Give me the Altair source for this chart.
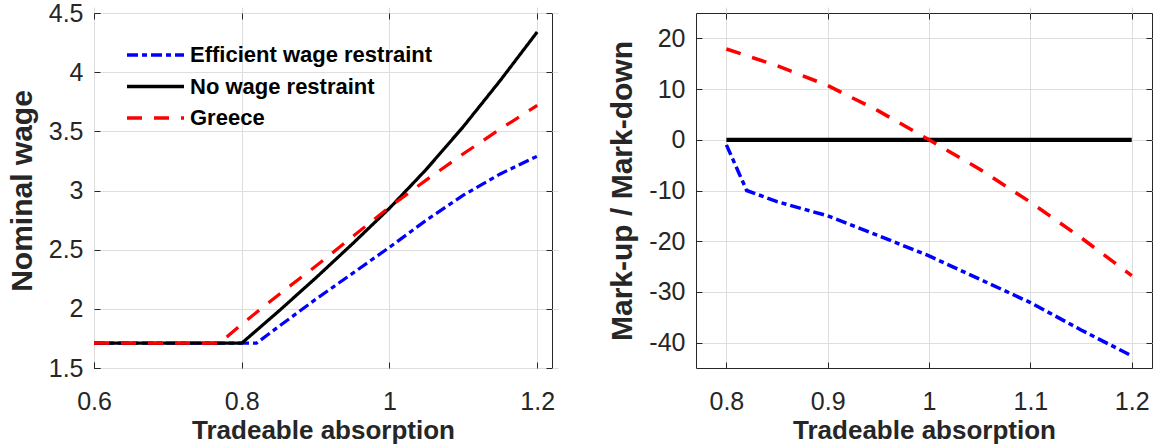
import altair as alt
import pandas as pd

SERIES = ["Efficient wage restraint", "No wage restraint", "Greece"]
COLORS = ["#0000ff", "#000000", "#ff0000"]
DASHES = [[11, 4, 5, 4], [1, 0], [15, 12]]

# ---- Left panel: Nominal wage vs tradeable absorption
eff_x = [0.6, 0.7, 0.82, 0.85, 0.9, 0.95, 1.0, 1.05, 1.1, 1.15, 1.2]
eff_y = [1.71, 1.71, 1.71, 1.85, 2.08, 2.30, 2.52, 2.75, 2.96, 3.14, 3.29]
now_x = [0.6, 0.7, 0.8, 0.85, 0.9, 0.95, 1.0, 1.05, 1.1, 1.15, 1.2]
now_y = [1.71, 1.71, 1.71, 1.98, 2.26, 2.55, 2.85, 3.18, 3.54, 3.93, 4.34]
gre_x = [0.6, 0.7, 0.77, 0.8, 0.85, 0.9, 0.95, 1.0, 1.05, 1.1, 1.15, 1.2]
gre_y = [1.71, 1.71, 1.71, 1.87, 2.12, 2.36, 2.61, 2.86, 3.09, 3.31, 3.52, 3.72]

# ---- Right panel: Mark-up / Mark-down vs tradeable absorption
eff2_x = [0.8, 0.82, 0.85, 0.9, 0.95, 1.0, 1.05, 1.1, 1.15, 1.2]
eff2_y = [-1.0, -10.0, -12.2, -15.0, -18.9, -22.9, -27.5, -32.1, -37.5, -42.6]
now2_x = [0.8, 1.2]
now2_y = [0.0, 0.0]
gre2_x = [0.8, 0.85, 0.9, 0.95, 1.0, 1.05, 1.1, 1.15, 1.2]
gre2_y = [17.9, 14.6, 10.7, 5.7, 0.0, -5.8, -12.3, -19.3, -26.8]

left_xticks = [0.6, 0.8, 1.0, 1.2]
left_yticks = [1.5, 2.0, 2.5, 3.0, 3.5, 4.0, 4.5]
right_xticks = [0.8, 0.9, 1.0, 1.1, 1.2]
right_yticks = [-40, -30, -20, -10, 0, 10, 20]

XTITLE = "Tradeable absorption"
FONT = "Liberation Sans"
TXT = "#262626"


def frame(xs, ys, name):
    return pd.DataFrame({"x": xs, "y": ys, "series": name})


def panel(dfs, xdom, xticks, ydom, yticks, ytitle, with_legend, w, h, widths):
    xs = alt.Scale(domain=xdom, nice=False, zero=False)
    ys = alt.Scale(domain=ydom, nice=False, zero=False)
    if with_legend:
        leg = alt.Legend(
            title=None, orient="none", legendX=31, legendY=32,
            symbolType="stroke", symbolSize=3249, symbolStrokeWidth=3.5,
            clipHeight=20, rowPadding=9.5, labelFont=FONT, labelFontSize=22,
            labelFontWeight="bold", labelColor="#000000", labelOffset=4,
            labelLimit=500, padding=0, symbolOffset=0,
        )
        color = alt.Color("series:N", scale=alt.Scale(domain=SERIES, range=COLORS), legend=leg)
        dash = alt.StrokeDash("series:N", scale=alt.Scale(domain=SERIES, range=DASHES), legend=leg)
    else:
        color = alt.Color("series:N", scale=alt.Scale(domain=SERIES, range=COLORS), legend=None)
        dash = alt.StrokeDash("series:N", scale=alt.Scale(domain=SERIES, range=DASHES), legend=None)

    lab = "datum.value + ''"
    main_x = alt.Axis(orient="bottom", values=xticks, title=XTITLE, labelExpr=lab, grid=True)
    main_y = alt.Axis(orient="left", values=yticks, title=ytitle, labelExpr=lab, grid=True)
    top_x = alt.Axis(orient="top", values=xticks, title=None, labels=False, grid=False)
    right_y = alt.Axis(orient="right", values=yticks, title=None, labels=False, grid=False)

    layers = []
    for i, df in enumerate(dfs):
        if i == 0:
            ax, ay = main_x, main_y
        elif i == 1:
            ax, ay = top_x, right_y
        else:
            ax, ay = None, None
        layers.append(
            alt.Chart(df).mark_line(strokeWidth=widths[i], clip=True).encode(
                x=alt.X("x:Q", scale=xs, axis=ax),
                y=alt.Y("y:Q", scale=ys, axis=ay),
                color=color,
                strokeDash=dash,
            )
        )
    return alt.layer(*layers).properties(width=w, height=h)


left = panel(
    [frame(eff_x, eff_y, SERIES[0]), frame(now_x, now_y, SERIES[1]), frame(gre_x, gre_y, SERIES[2])],
    [0.6, 1.22], left_xticks, [1.5, 4.5], left_yticks, "Nominal wage", True, 458, 355,
    [3.2, 3.2, 3.2],
)
right = panel(
    [frame(eff2_x, eff2_y, SERIES[0]), frame(now2_x, now2_y, SERIES[1]), frame(gre2_x, gre2_y, SERIES[2])],
    [0.77, 1.22], right_xticks, [-45, 25], right_yticks, "Mark-up / Mark-down", False, 456, 355,
    [3.5, 4.2, 3.5],
)

chart = (
    alt.hconcat(left, right, spacing=51)
    .resolve_scale(color="independent", strokeDash="independent")
    .properties(padding={"left": 6, "top": 0, "right": 0, "bottom": 0})
    .configure_view(stroke=TXT, strokeWidth=1)
    .configure_axis(
        labelFont=FONT, labelFontSize=25, labelColor=TXT,
        titleFont=FONT, titleFontWeight="bold", titleColor=TXT,
        domain=False, tickColor=TXT, tickSize=6, tickWidth=1, offset=-6,
        gridColor="#dedede", gridWidth=1, labelFlush=False, labelOverlap=False,
    )
    .configure_axisX(labelFontSize=25, labelPadding=21, titleFontSize=26, titlePadding=3)
    .configure_axisY(labelPadding=11, titleFontSize=30, titlePadding=11)
)

chart.save("out.html", embed_options={"renderer": "svg", "actions": False})
